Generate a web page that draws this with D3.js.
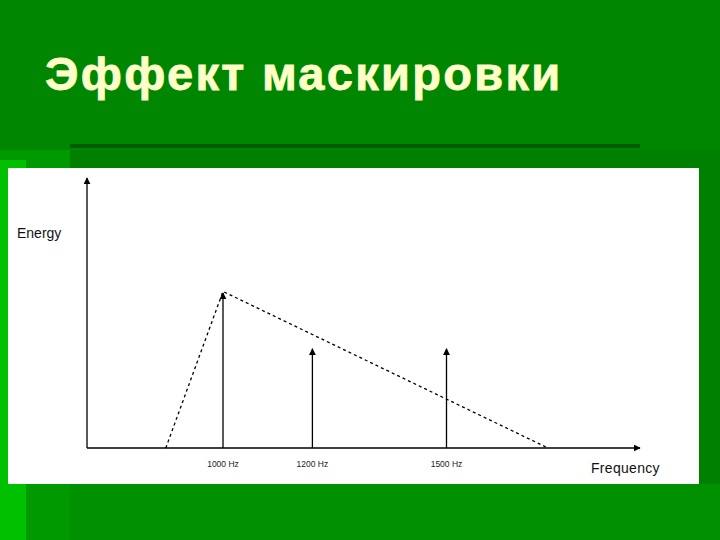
<!DOCTYPE html>
<html>
<head>
<meta charset="utf-8">
<script src="https://cdn.jsdelivr.net/npm/d3@7"></script>
<style>
  body { margin: 0; background: #008800; }
  svg { display: block; }
</style>
</head>
<body>
<svg width="720" height="540"></svg>
<script>
const svg = d3.select("svg"),
  width = +svg.attr("width"),
  height = +svg.attr("height");

// Data
const title = "Эффект маскировки";
const toneFreqs = [1000, 1200, 1500];          // Hz
const toneLabels = ["1000 Hz", "1200 Hz", "1500 Hz"];
const toneEnergy = [100, 64, 64];              // masker, then two probes
const maskFreqs = [872, 1000, 1727];           // masking curve corners
const maskEnergy = [0, 101, 0];

// Background of the slide
svg.append("rect").attr("width", width).attr("height", height).attr("fill", "#008600");
svg.append("rect").attr("x", 0).attr("y", 150).attr("width", 70).attr("height", height - 150).attr("fill", "#009a00");
svg.append("rect").attr("x", 0).attr("y", 160).attr("width", 26).attr("height", height - 160).attr("fill", "#00c000");
svg.append("rect").attr("x", 70).attr("y", 150).attr("width", width - 70).attr("height", height - 150).attr("fill", "#008000");
svg.append("rect").attr("x", 70).attr("y", 484).attr("width", width - 70).attr("height", 56).attr("fill", "#009000");
svg.append("rect").attr("x", 70).attr("y", 144).attr("width", 570).attr("height", 4).attr("fill", "#005c00");

svg.append("text")
  .attr("x", 45)
  .attr("y", 90)
  .attr("fill", "#ffffc8")
  .attr("stroke", "#ffffc8")
  .attr("stroke-width", 0.8)
  .style("font-family", "'Liberation Sans', Arial, sans-serif")
  .style("font-weight", "bold")
  .style("font-size", "47px")
  .style("letter-spacing", "2.3px")
  .text(title);

// White chart panel
svg.append("rect")
  .attr("x", 8).attr("y", 168)
  .attr("width", 691).attr("height", 316)
  .attr("fill", "#ffffff");

// Scales
const x = d3.scaleLinear().domain([1000, 1500]).range([223, 446.5]);
const y = d3.scaleLinear().domain([0, 100]).range([448, 293]);

const x0 = x.invert(87), x1 = x.invert(640);
const yTop = y.invert(178);

const defs = svg.append("defs");
defs.append("marker")
  .attr("id", "arrow")
  .attr("viewBox", "0 0 10 10")
  .attr("refX", 9).attr("refY", 5)
  .attr("markerWidth", 7).attr("markerHeight", 7)
  .attr("markerUnits", "userSpaceOnUse")
  .attr("orient", "auto")
  .append("path")
  .attr("d", "M0,0L10,5L0,10Z")
  .attr("fill", "#000");

const font = "'Liberation Sans', Arial, sans-serif";

// Axes
svg.append("line")
  .attr("x1", x(x0)).attr("y1", y(0))
  .attr("x2", x(x1)).attr("y2", y(0))
  .attr("stroke", "#000").attr("stroke-width", 1.3)
  .attr("marker-end", "url(#arrow)");

svg.append("line")
  .attr("x1", x(x0)).attr("y1", y(0))
  .attr("x2", x(x0)).attr("y2", y(yTop))
  .attr("stroke", "#000").attr("stroke-width", 1.3)
  .attr("marker-end", "url(#arrow)");

svg.append("text")
  .attr("x", 17).attr("y", 238)
  .style("font-family", font).style("font-size", "14px")
  .attr("fill", "#111")
  .text("Energy");

svg.append("text")
  .attr("x", 591).attr("y", 473)
  .style("font-family", font).style("font-size", "14px")
  .style("letter-spacing", "0.3px")
  .attr("fill", "#111")
  .text("Frequency");

// Masking curve
svg.append("path")
  .datum(maskFreqs.map((f, i) => [f, maskEnergy[i]]))
  .attr("d", d3.line().x(d => x(d[0])).y(d => y(d[1])))
  .attr("fill", "none")
  .attr("stroke", "#000")
  .attr("stroke-width", 1.3)
  .attr("stroke-dasharray", "3,3");

// Tones
svg.selectAll("line.tone")
  .data(toneFreqs)
  .join("line")
  .attr("class", "tone")
  .attr("x1", d => x(d)).attr("y1", y(0))
  .attr("x2", d => x(d)).attr("y2", (d, i) => y(toneEnergy[i]))
  .attr("stroke", "#000").attr("stroke-width", 1.3)
  .attr("marker-end", "url(#arrow)");

svg.selectAll("text.tick")
  .data(toneFreqs)
  .join("text")
  .attr("class", "tick")
  .attr("x", d => x(d)).attr("y", 467)
  .attr("text-anchor", "middle")
  .style("font-family", font).style("font-size", "8.5px")
  .attr("fill", "#222")
  .text((d, i) => toneLabels[i]);
</script>
</body>
</html>
